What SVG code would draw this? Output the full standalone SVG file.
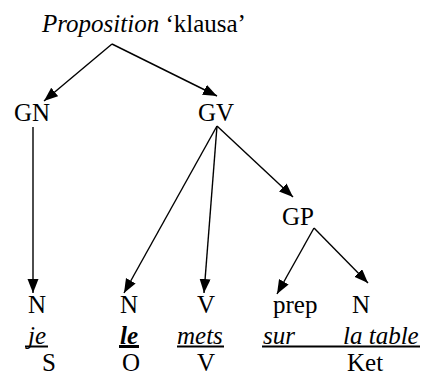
<svg xmlns="http://www.w3.org/2000/svg" width="422" height="372" viewBox="0 0 422 372">
<style>
text{font-family:'Liberation Serif',serif;font-size:25px;fill:#000}
.i{font-style:italic}
.b{font-weight:bold}
.e line{stroke:#000;stroke-width:1.4}
.u{stroke:#000}
</style>
<defs>
<marker id="ah" markerUnits="userSpaceOnUse" markerWidth="15" markerHeight="12" refX="14" refY="5.5" orient="auto">
<path d="M0,0 L14,5.5 L0,11 z" fill="#000"/>
</marker>
</defs>
<rect width="422" height="372" fill="#fff"/>
<g id="connectors" class="e">
<line x1="112" y1="44" x2="44" y2="101" marker-end="url(#ah)"/>
<line x1="112" y1="44" x2="217" y2="96" marker-end="url(#ah)"/>
<line x1="33" y1="127" x2="33" y2="293" marker-end="url(#ah)"/>
<line x1="217" y1="126" x2="124" y2="293" marker-end="url(#ah)"/>
<line x1="217" y1="126" x2="204" y2="293" marker-end="url(#ah)"/>
<line x1="217" y1="126" x2="293" y2="197" marker-end="url(#ah)"/>
<line x1="314" y1="228" x2="277" y2="294" marker-end="url(#ah)"/>
<line x1="314" y1="228" x2="368" y2="283" marker-end="url(#ah)"/>
</g>
<g id="root"><text x="42" y="32"><tspan class="i">Proposition</tspan> ‘klausa’</text></g>
<g id="gn"><text x="14" y="121">GN</text></g>
<g id="gv"><text x="198" y="121">GV</text></g>
<g id="gp"><text x="282" y="225">GP</text></g>
<g id="n1"><text x="28" y="313">N</text></g>
<g id="n2"><text x="120" y="313">N</text></g>
<g id="v"><text x="197" y="313">V</text></g>
<g id="prep"><text x="273" y="313">prep</text></g>
<g id="n3"><text x="352" y="313">N</text></g>
<g id="words">
<text class="i" x="28" y="344">je</text>
<line class="u" x1="25" y1="346.5" x2="48" y2="346.5" stroke-width="2"/>
<text class="i b" x="120" y="344">le</text>
<line class="u" x1="119" y1="346.5" x2="139" y2="346.5" stroke-width="3"/>
<text class="i" x="177" y="344">mets</text>
<line class="u" x1="177" y1="346.5" x2="224" y2="346.5" stroke-width="2"/>
<text class="i" x="263" y="344">sur</text>
<text class="i" x="343" y="344">la table</text>
<line class="u" x1="262" y1="346.5" x2="420" y2="346.5" stroke-width="2"/>
</g>
<g id="roles">
<text x="42" y="371">S</text>
<text x="122" y="371">O</text>
<text x="197" y="371">V</text>
<text x="347" y="371">Ket</text>
</g>
</svg>
